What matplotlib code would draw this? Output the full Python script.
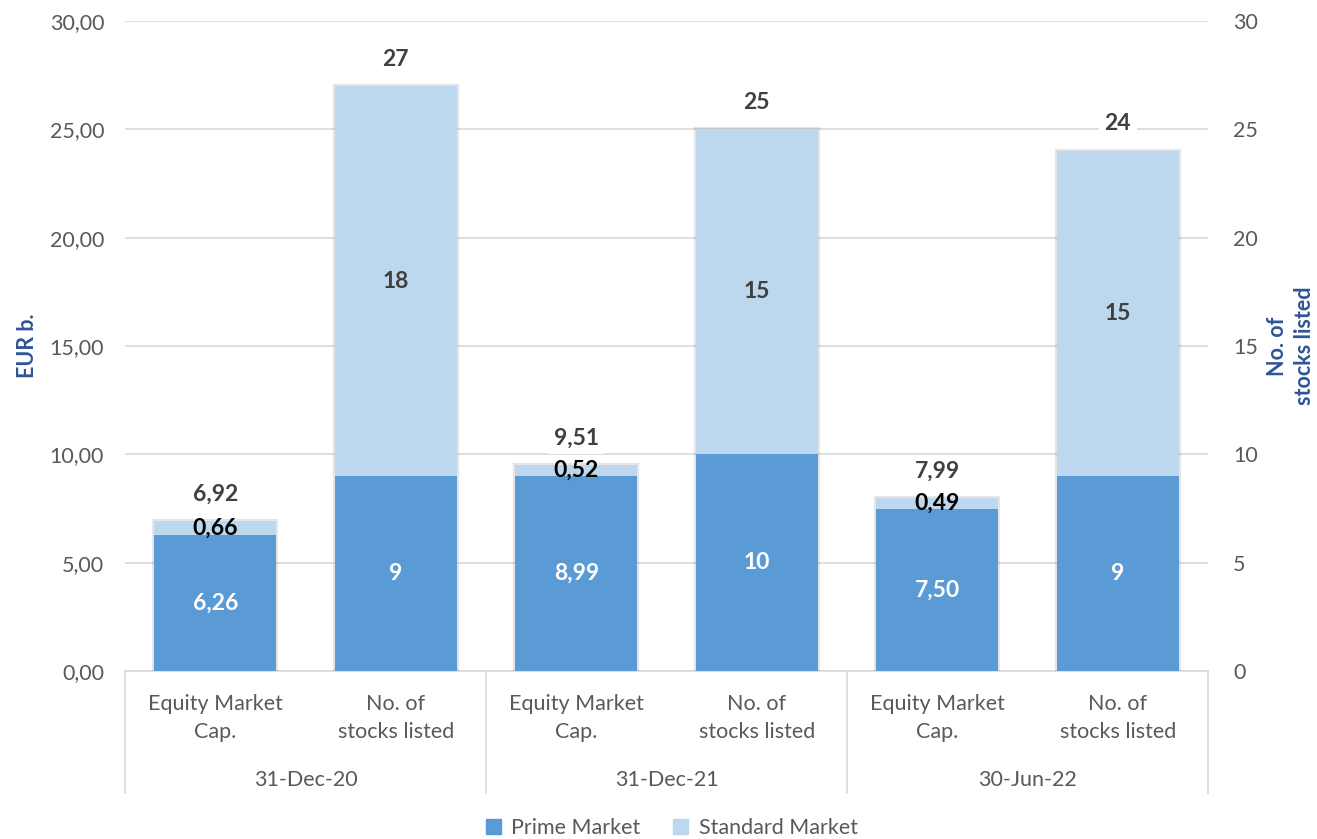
import matplotlib
matplotlib.use("Agg")
import matplotlib.pyplot as plt
import matplotlib.patheffects as pe
from matplotlib.patches import Patch
import numpy as np

plt.rcParams['font.family'] = ['Lato', 'DejaVu Sans']

dates = ["31-Dec-20", "31-Dec-21", "30-Jun-22"]
sub_labels = ["Equity Market\nCap.", "No. of\nstocks listed"]
cap_prime = [6.26, 8.99, 7.50]
cap_standard = [0.66, 0.52, 0.49]
cap_total = [6.92, 9.51, 7.99]
stocks_prime = [9, 10, 9]
stocks_standard = [18, 15, 15]
stocks_total = [27, 25, 24]
left_ticks = [0, 5, 10, 15, 20, 25, 30]

c_prime = "#5B9BD5"
c_std = "#BDD7EE"
blue_lab = "#2F5597"
grey_txt = "#595959"
FS = 15.5

fig = plt.figure(figsize=(13.17, 8.39), dpi=100)
ax = fig.add_axes([125/1317, 1-671/839, (1208-125)/1317, (671-21)/839])
ax2 = ax.twinx()

ax.set_ylim(0, 30)
ax2.set_ylim(0, 30)
ax.set_xlim(-0.5, 5.5)
ax.set_yticks(left_ticks)
ax.set_yticklabels([f"{v:.2f}".replace(".", ",") for v in left_ticks])
ax2.set_yticks(left_ticks)
ax2.set_yticklabels([str(v) for v in left_ticks])
for a in (ax, ax2):
    for s in a.spines.values():
        s.set_visible(False)
    a.tick_params(axis='y', length=0, labelsize=FS, labelcolor=grey_txt)
ax.tick_params(axis='y', pad=15)
ax2.tick_params(axis='y', pad=18)
ax.set_xticks([])
ax.grid(axis='y', color="#D9D9D9", linewidth=1.2)
ax.set_axisbelow(True)

w = 0.676
shadow = [pe.Stroke(linewidth=3, foreground="#000000", alpha=0.10), pe.Normal()]
cap_x = np.array([0, 2, 4])
st_x = np.array([1, 3, 5])

# soft outline behind each full stack
ax2.bar(cap_x, cap_total, w, color=c_std, path_effects=shadow, zorder=1)
ax2.bar(st_x, stocks_total, w, color=c_std, path_effects=shadow, zorder=1)
ax2.bar(cap_x, cap_prime, w, color=c_prime, zorder=2)
ax2.bar(cap_x, cap_standard, w, bottom=cap_prime, color=c_std, zorder=2)
ax2.bar(st_x, stocks_prime, w, color=c_prime, zorder=2)
ax2.bar(st_x, stocks_standard, w, bottom=stocks_prime, color=c_std, zorder=2)

LFS = 16.5
for i in range(3):
    ax2.text(cap_x[i], cap_prime[i]/2, f"{cap_prime[i]:.2f}".replace(".", ","), ha='center', va='center',
             color='white', fontsize=LFS, fontweight='bold', zorder=5)
    ax2.text(cap_x[i], cap_prime[i] + cap_standard[i]/2, f"{cap_standard[i]:.2f}".replace(".", ","),
             ha='center', va='center', color='black', fontsize=LFS, fontweight='bold', zorder=5)
    ax2.annotate(f"{cap_total[i]:.2f}".replace(".", ","), (cap_x[i], cap_total[i]), xytext=(0, 27),
                 textcoords='offset pixels', ha='center', va='center', color="#404040", fontsize=LFS,
                 fontweight='bold', zorder=5,
                 bbox=dict(boxstyle='square,pad=0.25', fc='white', ec='none'))
    ax2.text(st_x[i], stocks_prime[i]/2, str(stocks_prime[i]), ha='center', va='center',
             color='white', fontsize=LFS, fontweight='bold', zorder=5)
    ax2.text(st_x[i], stocks_prime[i] + stocks_standard[i]/2, str(stocks_standard[i]),
             ha='center', va='center', color="#404040", fontsize=LFS, fontweight='bold', zorder=5)
    ax2.annotate(str(stocks_total[i]), (st_x[i], stocks_total[i]), xytext=(0, 27),
                 textcoords='offset pixels', ha='center', va='center', color="#404040", fontsize=LFS,
                 fontweight='bold', zorder=5,
                 bbox=dict(boxstyle='square,pad=0.25', fc='white', ec='none'))

# multi-level category axis
trans = ax.get_xaxis_transform()
ax.plot([-0.5, 5.5], [0, 0], transform=trans, color="#D9D9D9", lw=1.2, clip_on=False)
for xb in [-0.5, 1.5, 3.5, 5.5]:
    ax.plot([xb, xb], [0, -122/650], transform=trans, color="#D9D9D9", lw=1.2, clip_on=False)
for i in range(6):
    ax.text(i, -47/650, sub_labels[i % 2], transform=trans, ha='center', va='center',
            fontsize=FS, color=grey_txt, linespacing=1.45)
for g in range(3):
    ax.text(2*g + 0.5, -109/650, dates[g], transform=trans, ha='center', va='center',
            fontsize=FS, color=grey_txt)

fig.text(28/1317, 1-346/839, "EUR b.", rotation=90, ha='center', va='center',
         fontsize=FS, fontweight='bold', color=blue_lab)
fig.text(1291/1317, 1-346/839, "No. of\nstocks listed", rotation=90, ha='center', va='center',
         fontsize=FS, fontweight='bold', color=blue_lab, linespacing=1.3)

handles = [Patch(color=c_prime, label="Prime Market"), Patch(color=c_std, label="Standard Market")]
fig.legend(handles=handles, loc='center', bbox_to_anchor=(0.51, 1-828/839), ncol=2, frameon=False,
           fontsize=FS, labelcolor=grey_txt, handlelength=0.7, handleheight=0.7,
           columnspacing=1.5, handletextpad=0.5, borderpad=0)

fig.savefig("out.png", dpi=100)
